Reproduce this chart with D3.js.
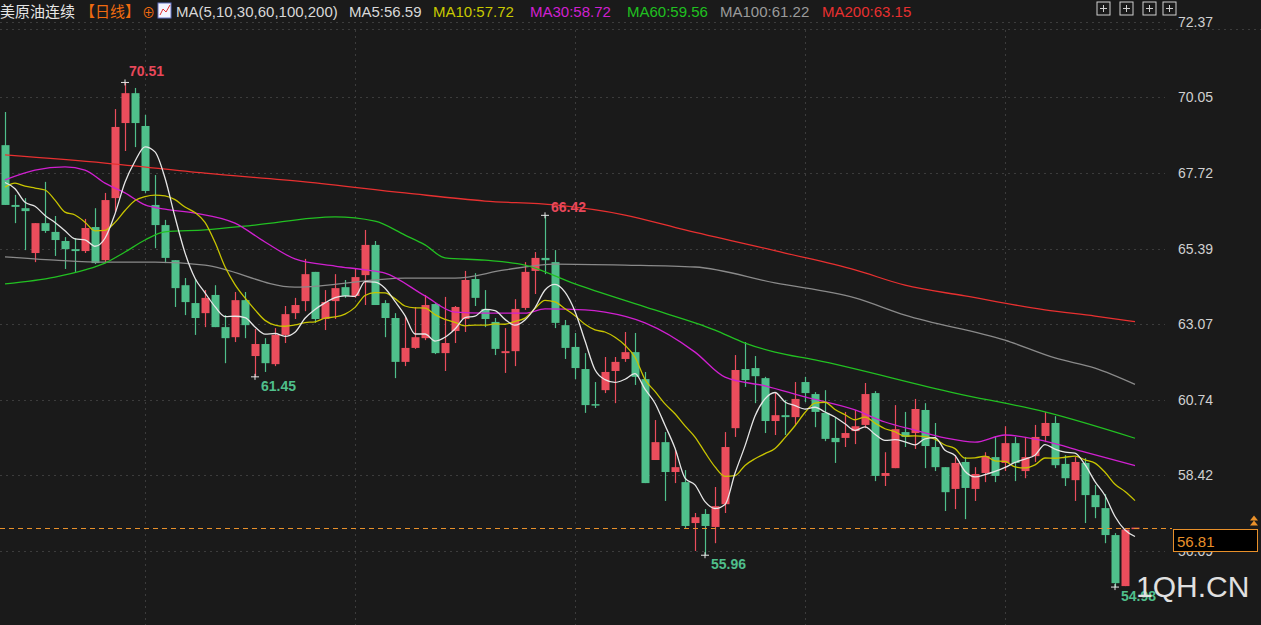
<!DOCTYPE html>
<html><head><meta charset="utf-8">
<script src="https://cdn.jsdelivr.net/npm/d3@7/dist/d3.min.js"></script>
<style>body{margin:0;background:#1a1a1a;overflow:hidden}svg{display:block}</style>
</head><body><svg id="c" width="1261" height="625"></svg>
<script>
// OHLC (open, close, high, low)
const opens  = [68.58,66.74,66.64,65.26,66.18,65.91,65.63,65.38,65.32,66.06,65.04,66.95,69.26,70.18,69.17,66.74,66.12,65.04,64.27,63.72,63.41,63.97,62.98,62.67,63.81,62.09,62.46,61.84,62.74,63.41,63.78,64.68,63.23,63.78,64.21,63.94,64.58,65.51,63.72,63.26,61.91,62.34,62.64,63.69,62.18,62.86,63.23,64.46,63.54,63.14,62.18,62.24,63.57,64.71,65.11,64.98,63.04,62.37,61.69,60.61,61.04,61.63,62.00,62.21,61.38,58.89,59.44,58.52,58.21,56.95,57.23,56.83,57.53,59.87,61.69,61.72,61.41,60.09,60.27,60.21,61.29,60.92,60.34,59.57,59.57,59.78,59.97,60.95,58.40,58.64,59.75,59.72,60.43,59.29,58.67,58.00,58.83,58.00,58.49,58.98,58.80,59.41,58.55,59.01,59.63,60.03,58.77,58.27,58.80,57.81,57.41,56.58,55.01,56.81];
const closes = [66.74,66.68,66.55,66.18,65.94,65.66,65.38,65.32,66.03,64.95,66.89,69.14,70.18,69.26,67.17,66.12,65.11,64.18,63.75,63.26,63.88,62.98,62.64,63.81,63.04,62.46,61.87,62.74,63.38,63.66,64.61,63.23,63.75,64.18,63.94,64.52,65.51,63.66,63.26,61.91,62.34,62.67,63.66,62.18,62.49,63.60,64.43,63.88,63.23,62.31,62.24,63.54,64.68,65.11,65.04,63.11,62.34,61.72,60.58,60.58,61.60,61.91,62.21,61.45,58.18,59.44,58.52,58.67,56.86,57.13,56.86,57.47,59.29,61.66,61.35,61.47,60.09,60.27,60.21,60.77,60.95,60.37,59.54,59.44,59.72,59.93,60.92,58.40,58.49,59.84,59.60,60.46,59.32,58.67,57.90,58.80,58.03,58.46,59.01,58.40,59.41,58.80,58.98,59.60,60.03,58.73,58.33,58.83,57.81,57.44,56.58,55.10,56.75,56.81];
const highs  = [69.60,67.05,66.95,66.18,67.45,66.40,65.75,65.72,66.31,66.64,67.11,69.69,70.51,70.34,69.51,67.66,66.28,65.04,64.49,64.46,64.12,64.27,63.35,64.06,64.06,62.92,62.64,62.95,63.63,63.88,65.08,64.68,64.12,64.61,64.43,64.80,65.97,65.63,63.81,63.41,63.29,63.60,63.97,63.72,63.91,63.63,64.71,64.64,64.12,63.26,62.95,63.84,64.98,65.29,66.42,65.35,63.20,62.80,62.18,61.29,62.06,62.06,62.83,62.80,61.60,60.12,59.75,59.20,58.58,57.26,57.38,58.06,59.75,62.12,62.52,62.09,61.45,60.98,60.74,61.29,61.45,60.98,61.04,60.21,60.37,60.43,61.26,61.01,59.13,60.58,60.37,60.77,60.64,60.03,58.67,59.04,58.98,58.67,59.13,59.60,59.93,59.60,59.60,59.97,60.37,60.24,59.04,58.98,58.95,58.12,57.84,56.64,56.75,56.81];
const lows   = [66.74,66.18,65.35,64.98,65.88,65.17,64.77,64.68,65.26,64.92,64.95,66.52,68.40,68.52,67.11,65.41,64.95,63.60,63.35,62.74,62.98,62.98,61.87,62.52,62.64,61.45,61.60,61.78,62.49,63.23,63.47,63.11,62.89,63.23,63.88,63.88,63.66,63.66,62.67,61.41,61.78,62.31,62.58,62.15,61.63,62.49,62.83,63.63,62.98,62.12,61.57,61.78,63.51,64.00,64.61,62.95,62.00,61.38,60.34,60.49,60.95,60.64,61.91,61.20,58.18,58.89,57.63,58.18,56.80,56.09,55.96,56.33,57.26,59.60,61.14,60.64,59.72,59.66,59.66,59.97,60.67,59.90,59.47,58.80,59.29,59.38,59.87,58.24,58.09,58.64,59.29,59.23,58.64,58.55,57.32,57.38,57.07,57.63,58.21,58.21,58.55,58.24,58.33,58.83,59.44,58.64,58.09,57.63,56.95,57.10,56.33,54.98,55.01,56.81];
// heads of MA5 / MA10 before enough candles are visible
const ma5Head  = [67.43,67.24,66.82,66.70];
const ma10Head = [67.29,67.41,67.32,67.26,67.20,66.89,66.52,66.43,66.21];
// long MAs read at sample candle indices
const ma30Idx  = [0,3,6,8,10,12,14,16,19,23,26,29,33,36,38,42,45,48,52,54,58,60,64,69,72,76,80,85,88,91,94,97,100,104,108,113];
const ma30Val  = [67.51,67.81,67.91,67.81,67.41,67.11,66.74,66.61,66.49,66.18,65.60,65.08,64.86,64.74,64.64,63.94,63.44,63.41,63.41,63.54,63.51,63.44,63.11,62.21,61.44,61.17,60.83,60.43,60.06,59.81,59.57,59.44,59.66,59.47,59.13,58.72];
const ma60Idx  = [0,5,8,10,12,14,16,20,25,33,37,40,42,44,48,52,57,64,71,74,77,81,95,104,113];
const ma60Val  = [64.31,64.52,64.74,64.95,65.29,65.66,65.91,65.97,66.12,66.37,66.24,65.81,65.51,65.11,65.04,64.89,64.31,63.60,62.89,62.49,62.21,61.97,60.95,60.37,59.56];
const ma100Idx = [0,5,10,15,20,29,40,45,50,55,62,69,77,85,90,100,105,109,113];
const ma100Val = [65.14,65.04,64.98,64.98,64.89,64.21,64.49,64.49,64.74,64.92,64.89,64.83,64.34,63.88,63.35,62.58,62.03,61.72,61.22];
const ma200Idx = [0,10,20,30,40,48,55,62,68,78,85,90,96,104,109,113];
const ma200Val = [68.28,68.03,67.72,67.45,67.11,66.86,66.74,66.43,65.97,65.26,64.74,64.27,63.94,63.51,63.32,63.15];
const yTicks = [72.37,70.05,67.72,65.39,63.07,60.74,58.42,56.09];
const vGridIdx = [14,35,57,80,100];
const lastPrice = 56.81;
const marks = [{i:12,v:70.51,t:"70.51",c:"#e8485a",dx:4,dy:-6},{i:54,v:66.42,t:"66.42",c:"#e8485a",dx:6,dy:-3},
  {i:25,v:61.45,t:"61.45",c:"#4fbf8b",dx:6,dy:14},{i:70,v:55.96,t:"55.96",c:"#4fbf8b",dx:6,dy:14},{i:111,v:54.98,t:"54.98",c:"#4fbf8b",dx:6,dy:14}];
const legend = [["美原油连续","#e6e6e6"],["【日线】","#f06a10"],["⊕","#f06a10"],["ICON",""],["MA(5,10,30,60,100,200)","#d8d8d8"],["MA5:56.59","#d8d8d8"],
  ["MA10:57.72","#c8c800"],["MA30:58.72","#d020d0"],["MA60:59.56","#20c020"],["MA100:61.22","#9a9a9a"],["MA200:63.15","#e83030"]];

const svg = d3.select("#c");
const W=1261,H=625,plotR=1165;
svg.append("rect").attr("width",W).attr("height",H).attr("fill","#1a1a1a");
const x = d3.scaleLinear().domain([0,113]).range([5,1135]);
const y = d3.scaleLinear().domain([56.09,72.37]).range([551,22]);
const g = svg.append("g");
g.selectAll(".hg").data(yTicks).join("line").attr("x1",0).attr("x2",plotR).attr("y1",d=>Math.round(y(d))+0.5).attr("y2",d=>Math.round(y(d))+0.5)
 .attr("stroke","#3c3c3c").attr("stroke-dasharray","2,4");
g.selectAll(".vg").data(vGridIdx).join("line").attr("x1",d=>x(d)+0.5).attr("x2",d=>x(d)+0.5).attr("y1",30).attr("y2",H)
 .attr("stroke","#3c3c3c").attr("stroke-dasharray","2,4");
const ax = d3.axisRight(y).tickValues(yTicks).tickFormat(d3.format(".2f")).tickSize(0).tickPadding(0);
const axg = svg.append("g").attr("transform","translate(1178,0)").call(ax);
axg.select(".domain").remove();
axg.selectAll("text").attr("fill","#d0d0d0").attr("font-size",14).attr("font-family","Arial, Liberation Sans, sans-serif");
const idx = d3.range(opens.length);
const up = i => closes[i] >= opens[i];
const cg = g.append("g");
cg.selectAll(".w").data(idx).join("line").attr("x1",i=>x(i)+0.5).attr("x2",i=>x(i)+0.5)
  .attr("y1",i=>y(highs[i])).attr("y2",i=>y(lows[i])).attr("stroke",i=>up(i)?"#eb4d5c":"#4fbf8b").attr("stroke-width",1.2);
cg.selectAll(".b").data(idx).join("rect").attr("x",i=>x(i)-3.5).attr("width",8)
  .attr("y",i=>y(Math.max(opens[i],closes[i]))).attr("height",i=>Math.max(1.5,Math.abs(y(opens[i])-y(closes[i]))))
  .attr("fill",i=>up(i)?"#eb4d5c":"#4fbf8b");
function ma(n, head){ return idx.map(i=> i<n-1 ? head[i] : d3.mean(closes.slice(i-n+1,i+1))); }
const ma5 = ma(5,ma5Head), ma10 = ma(10,ma10Head);
const line = d3.line().x(d=>x(d[0])).y(d=>y(d[1])).curve(d3.curveMonotoneX);
function draw(pts,col){ g.append("path").attr("d",line(pts)).attr("fill","none").attr("stroke",col).attr("stroke-width",1.3); }
draw(ma200Idx.map((d,k)=>[d,ma200Val[k]]),"#e83030");
draw(ma100Idx.map((d,k)=>[d,ma100Val[k]]),"#8a8a8a");
draw(ma60Idx.map((d,k)=>[d,ma60Val[k]]),"#22c022");
draw(ma30Idx.map((d,k)=>[d,ma30Val[k]]),"#d020d0");
draw(ma10.map((v,i)=>[i,v]),"#c8c400");
draw(ma5.map((v,i)=>[i,v]),"#e6e6e6");
const ly = Math.round(y(lastPrice))+0.5;
g.append("line").attr("x1",0).attr("x2",1172).attr("y1",ly).attr("y2",ly).attr("stroke","#e8902a").attr("stroke-width",1.2).attr("stroke-dasharray","5,4");
svg.append("rect").attr("x",1173.5).attr("y",ly+1).attr("width",84).attr("height",22).attr("fill","#000").attr("stroke","#e8902a");
svg.append("text").attr("x",1177).attr("y",ly+18).text("56.81").attr("fill","#e8902a").attr("font-size",15).attr("font-family","Arial, Liberation Sans, sans-serif");
svg.append("path").attr("d",`M1250,${ly-3} l4,-5 l4,5 z M1250,${ly-8} l4,-5 l4,5 z`).attr("fill","#e8902a");
marks.forEach(m=>{
  const px=x(m.i), py=y(m.v);
  g.append("path").attr("d",`M${px-4},${py}h8M${px},${py-3}v6`).attr("stroke","#e6e6e6").attr("stroke-width",1);
  g.append("text").attr("x",px+m.dx).attr("y",py+m.dy).text(m.t).attr("fill",m.c).attr("font-size",14).attr("font-weight","bold")
   .attr("font-family","Arial, Liberation Sans, sans-serif");
});
svg.append("text").attr("x",1136).attr("y",597).text("1QH.CN").attr("fill","#e0e0e0").attr("font-size",30).attr("font-family","Arial, Liberation Sans, sans-serif");
const lgx=[0,80,142,158,176,349,433,530,627,720,822];
legend.forEach((d,k)=>{
  if(d[0]==="ICON"){
    svg.append("rect").attr("x",lgx[k]).attr("y",3).attr("width",13).attr("height",15).attr("fill","#f4f4ff").attr("stroke","#6070c0");
    svg.append("path").attr("d",`M${lgx[k]+2},15 l3,-6 l3,3 l4,-7`).attr("stroke","#e03030").attr("fill","none");
    return;
  }
  svg.append("text").attr("x",lgx[k]).attr("y",17).text(d[0]).attr("fill",d[1]).attr("font-size",d[0]==="⊕"?13:15)
   .attr("font-family","Arial, 'Noto Sans CJK SC', sans-serif");
});
[1097,1120,1143,1163].forEach((px,k)=>{
  svg.append("rect").attr("x",px).attr("y",2).attr("width",13).attr("height",13).attr("fill","none").attr("stroke","#cfcfcf");
  svg.append("path").attr("d",`M${px+3},${8.5}h7M${px+6.5},5v7`).attr("stroke","#cfcfcf");
});
svg.append("line").attr("x1",0).attr("x2",W).attr("y1",29.5).attr("y2",29.5).attr("stroke","#3c3c3c").attr("stroke-dasharray","2,4");
</script></body></html>
